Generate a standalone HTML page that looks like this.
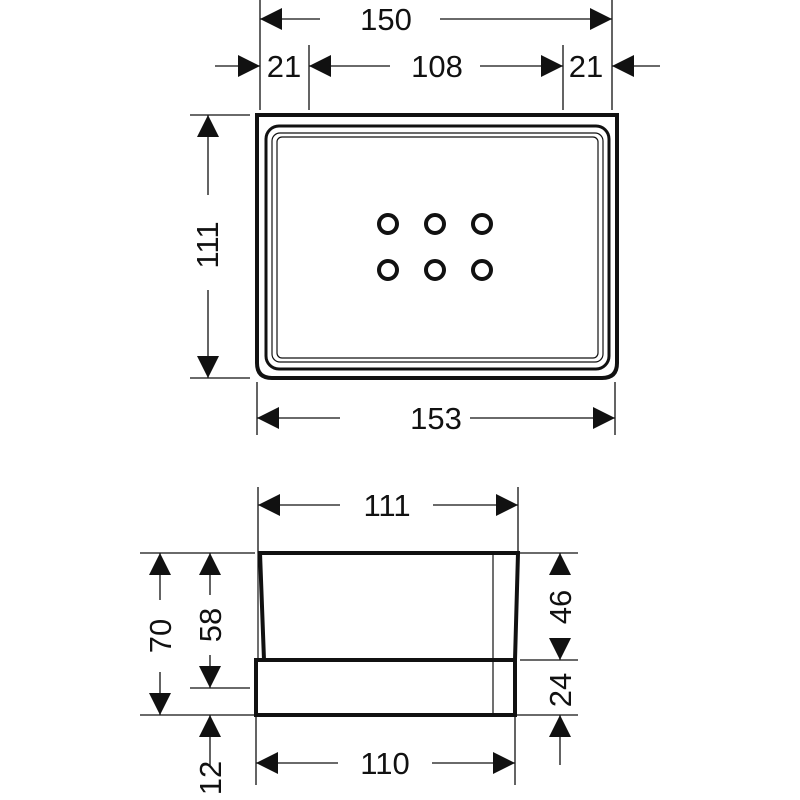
<!DOCTYPE html>
<html><head><style>body{margin:0;background:#fff}svg{display:block}text{font-family:"Liberation Sans",sans-serif;font-size:31px;fill:#111}</style></head><body>
<svg width="800" height="800" viewBox="0 0 800 800">
<defs>
<marker id="a" viewBox="0 0 22 22" refX="22" refY="11" markerWidth="22" markerHeight="22" markerUnits="userSpaceOnUse" orient="auto"><path d="M0,0L22,11L0,22Z" fill="#111"/></marker>
</defs>
<g stroke="#111" stroke-width="1.3" fill="none">
<path d="M260,0V110M612,0V110M309,45V110M563,45V110M190,115H250M190,378H250M257,382V435M615,382V435"/>
<path d="M320,19H260" marker-end="url(#a)"/>
<path d="M440,19H612" marker-end="url(#a)"/>
<path d="M215,66H260" marker-end="url(#a)"/>
<path d="M660,66H612" marker-end="url(#a)"/>
<path d="M390,66H309" marker-end="url(#a)"/>
<path d="M480,66H563" marker-end="url(#a)"/>
<path d="M208,195V115" marker-end="url(#a)"/>
<path d="M208,290V378" marker-end="url(#a)"/>
<path d="M340,418H257" marker-end="url(#a)"/>
<path d="M470,418H615" marker-end="url(#a)"/>
</g>
<g stroke="#111" fill="none">
<path d="M257,115H617V363Q617,378 602,378H272Q257,378 257,363Z" stroke-width="4"/>
<rect x="266" y="126" width="343" height="243" rx="13" stroke-width="3"/>
<rect x="272" y="133" width="331" height="229" rx="8" stroke-width="1.2"/>
<rect x="277" y="137" width="321" height="221" rx="5" stroke-width="1.2"/>
<g stroke-width="4">
<circle cx="388" cy="224" r="9"/><circle cx="435" cy="224" r="9"/><circle cx="482" cy="224" r="9"/>
<circle cx="388" cy="270" r="9"/><circle cx="435" cy="270" r="9"/><circle cx="482" cy="270" r="9"/>
</g>
<path d="M260,553H518L515,660H264Z" stroke-width="4"/>
<rect x="256" y="660" width="259" height="55" stroke-width="4"/>
<path d="M258,553V660M493,553V715" stroke-width="1.2"/>
<g stroke-width="1.3">
<path d="M258,487V553M518,487V553M256,715V785M515,715V785"/>
<path d="M140,553H255M520,553H578M140,715H255M517,715H578M520,660H578M190,688H250"/>
<path d="M340,505H258" marker-end="url(#a)"/>
<path d="M433,505H518" marker-end="url(#a)"/>
<path d="M338,763H256" marker-end="url(#a)"/>
<path d="M432,763H515" marker-end="url(#a)"/>
<path d="M160,600V553" marker-end="url(#a)"/>
<path d="M160,672V715" marker-end="url(#a)"/>
<path d="M210,595V553" marker-end="url(#a)"/>
<path d="M210,655V688" marker-end="url(#a)"/>
<path d="M210,765V715" marker-end="url(#a)"/>
<path d="M560,575V553" marker-end="url(#a)"/>
<path d="M560,640V660" marker-end="url(#a)"/>
<path d="M560,765V715" marker-end="url(#a)"/>
</g>
</g>
<text x="386" y="30" text-anchor="middle">150</text>
<text x="284" y="77" text-anchor="middle">21</text>
<text x="437" y="77" text-anchor="middle">108</text>
<text x="586" y="77" text-anchor="middle">21</text>
<text x="436" y="429" text-anchor="middle">153</text>
<text transform="translate(218,245) rotate(-90)" text-anchor="middle">111</text>
<text x="387" y="516" text-anchor="middle">111</text>
<text x="385" y="774" text-anchor="middle">110</text>
<text transform="translate(171,636) rotate(-90)" text-anchor="middle">70</text>
<text transform="translate(221,625) rotate(-90)" text-anchor="middle">58</text>
<text transform="translate(221,778) rotate(-90)" text-anchor="middle">12</text>
<text transform="translate(571,607) rotate(-90)" text-anchor="middle">46</text>
<text transform="translate(571,690) rotate(-90)" text-anchor="middle">24</text>
</svg>
</body></html>
